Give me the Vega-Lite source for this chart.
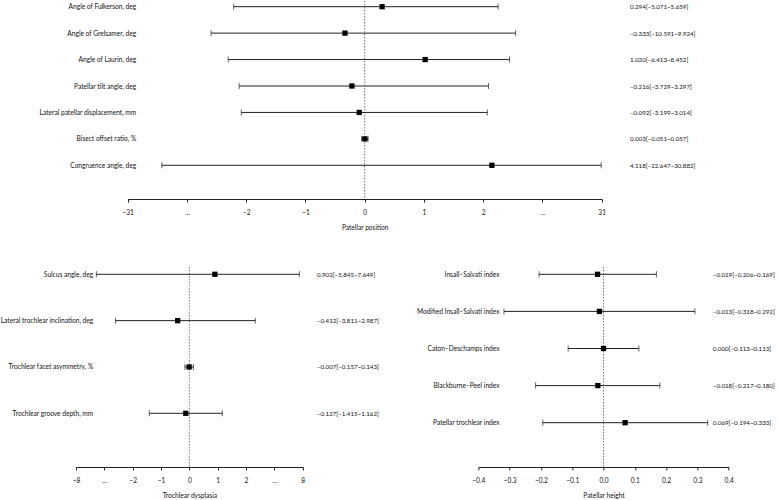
{
  "$schema": "https://vega.github.io/schema/vega-lite/v6.json",
  "padding": 0,
  "background": "white",
  "bounds": "flush",
  "spacing": 68,
  "datasets": {
    "position": [
      {"label": "Angle of Fulkerson, deg", "est": 0.294, "lo": -5.071, "hi": 5.659, "ci": "\u20070.294[−5.071~5.659]"},
      {"label": "Angle of Grelsamer, deg", "est": -0.333, "lo": -10.591, "hi": 9.924, "ci": "−0.333[−10.591~9.924]"},
      {"label": "Angle of Laurin, deg", "est": 1.020, "lo": -6.413, "hi": 8.452, "ci": "\u20071.020[−6.413~8.452]"},
      {"label": "Patellar tilt angle, deg", "est": -0.216, "lo": -3.729, "hi": 3.297, "ci": "−0.216[−3.729~3.297]"},
      {"label": "Lateral patellar displacement, mm", "est": -0.092, "lo": -3.199, "hi": 3.014, "ci": "−0.092[−3.199~3.014]"},
      {"label": "Bisect offset ratio, %", "est": 0.003, "lo": -0.051, "hi": 0.057, "ci": "\u20070.003[−0.051~0.057]"},
      {"label": "Congruence angle, deg", "est": 4.118, "lo": -22.647, "hi": 30.882, "ci": "\u20074.118[−22.647~30.882]"}
    ],
    "dysplasia": [
      {"label": "Sulcus angle, deg", "est": 0.902, "lo": -5.845, "hi": 7.649, "ci": "\u20070.902[−5.845~7.649]"},
      {"label": "Lateral trochlear inclination, deg", "est": -0.412, "lo": -3.811, "hi": 2.987, "ci": "−0.412[−3.811~2.987]"},
      {"label": "Trochlear facet asymmetry, %", "est": -0.007, "lo": -0.157, "hi": 0.143, "ci": "−0.007[−0.157~0.143]"},
      {"label": "Trochlear groove depth, mm", "est": -0.127, "lo": -1.415, "hi": 1.162, "ci": "−0.127[−1.415~1.162]"}
    ],
    "height": [
      {"label": "Insall–Salvati index", "est": -0.019, "lo": -0.206, "hi": 0.169, "ci": "−0.019[−0.206~0.169]"},
      {"label": "Modified Insall–Salvati index", "est": -0.013, "lo": -0.318, "hi": 0.292, "ci": "−0.013[−0.318~0.292]"},
      {"label": "Caton–Deschamps index", "est": 0.000, "lo": -0.113, "hi": 0.113, "ci": "\u20070.000[−0.113~0.113]"},
      {"label": "Blackburne–Peel index", "est": -0.018, "lo": -0.217, "hi": 0.180, "ci": "−0.018[−0.217~0.180]"},
      {"label": "Patellar trochlear index", "est": 0.069, "lo": -0.194, "hi": 0.333, "ci": "\u20070.069[−0.194~0.333]"}
    ]
  },
  "vconcat": [
    {
      "width": 525.7,
      "height": 198,
      "data": {"name": "position"},
      "layer": [
        {
          "layer": [
            {
              "data": {"values": [{"ref": 0}]},
              "mark": {"type": "rule", "color": "#777", "strokeDash": [1.5, 1.5], "strokeWidth": 1},
              "encoding": {
                "x": {"field": "ref", "type": "quantitative", "title": "Patellar position",
                  "scale": {"domain": [-31, -2, 2, 31], "range": [51.7, 170.2, 407.2, 525.7], "nice": false, "zero": false},
                  "axis": {"values": [-31, -16.5, -2, -1, 0, 1, 2, 16.5, 31], "labelOverlap": false, "labelExpr": "abs(datum.value) == 16.5 ? '...' : datum.label"}}
              }
            },
            {
              "mark": {"type": "rule", "color": "#222", "strokeWidth": 1},
              "encoding": {
                "x": {"field": "lo", "type": "quantitative", "title": "Patellar position"},
                "x2": {"field": "hi"},
                "y": {"field": "label", "type": "nominal", "sort": null, "scale": {"type": "point", "range": [5.7, 164.3], "padding": 0},
                  "axis": {"orient": "left", "title": null, "domain": false, "ticks": false, "labelPadding": 0, "offset": -59.7, "labelLimit": 300}}
              }
            },
            {
              "mark": {"type": "tick", "color": "#222", "thickness": 1, "size": 6},
              "encoding": {
                "x": {"field": "lo", "type": "quantitative", "title": "Patellar position"},
                "y": {"field": "label", "type": "nominal", "sort": null}
              }
            },
            {
              "mark": {"type": "tick", "color": "#222", "thickness": 1, "size": 6},
              "encoding": {
                "x": {"field": "hi", "type": "quantitative", "title": "Patellar position"},
                "y": {"field": "label", "type": "nominal", "sort": null}
              }
            }
          ]
        },
        {
          "mark": {"type": "square", "color": "#000", "opacity": 1, "size": 28},
          "encoding": {
            "x": {"field": "est", "type": "quantitative", "title": "Patellar position"},
            "y": {"field": "ci", "type": "nominal", "sort": null, "scale": {"type": "point", "range": [5.7, 164.3], "padding": 0},
              "axis": {"orient": "right", "title": null, "domain": false, "ticks": false, "labelPadding": 27.7, "labelAlign": "left", "labelLimit": 300, "labelFontSize": 6.2}}
          }
        }
      ],
      "resolve": {"scale": {"y": "independent"}, "axis": {"y": "independent"}}
    },
    {
      "bounds": "flush",
      "spacing": 175.3,
      "hconcat": [
        {
          "width": 226.7,
          "height": 200,
          "data": {"name": "dysplasia"},
          "layer": [
            {
              "layer": [
                {
                  "data": {"values": [{"ref": 0}]},
                  "mark": {"type": "rule", "color": "#777", "strokeDash": [1.5, 1.5], "strokeWidth": 1},
                  "encoding": {
                    "x": {"field": "ref", "type": "quantitative", "title": "Trochlear dysplasia",
                      "scale": {"domain": [-8, -2, 2, 8], "range": [0, 56.7, 170, 226.7], "nice": false, "zero": false},
                      "axis": {"values": [-8, -5, -2, -1, 0, 1, 2, 5, 8], "tickCount": 9, "labelOverlap": false, "labelSeparation": 0, "labelExpr": "abs(datum.value) == 5 ? '...' : datum.label"}}
                  }
                },
                {
                  "mark": {"type": "rule", "color": "#222", "strokeWidth": 1},
                  "encoding": {
                    "x": {"field": "lo", "type": "quantitative", "title": "Trochlear dysplasia",
                      "axis": {"values": [-8, -5, -2, -1, 0, 1, 2, 5, 8], "tickCount": 9, "labelOverlap": false, "labelSeparation": 0, "labelExpr": "abs(datum.value) == 5 ? '...' : datum.label"}},
                    "x2": {"field": "hi"},
                    "y": {"field": "label", "type": "nominal", "sort": null, "scale": {"type": "point", "range": [7.3, 146.3], "padding": 0},
                      "axis": {"orient": "left", "title": null, "domain": false, "ticks": false, "labelPadding": 0, "offset": -16.7, "labelLimit": 300}}
                  }
                },
                {
                  "mark": {"type": "tick", "color": "#222", "thickness": 1, "size": 6},
                  "encoding": {
                    "x": {"field": "lo", "type": "quantitative", "title": "Trochlear dysplasia"},
                    "y": {"field": "label", "type": "nominal", "sort": null}
                  }
                },
                {
                  "mark": {"type": "tick", "color": "#222", "thickness": 1, "size": 6},
                  "encoding": {
                    "x": {"field": "hi", "type": "quantitative", "title": "Trochlear dysplasia"},
                    "y": {"field": "label", "type": "nominal", "sort": null}
                  }
                }
              ]
            },
            {
              "mark": {"type": "square", "color": "#000", "opacity": 1, "size": 28},
              "encoding": {
                "x": {"field": "est", "type": "quantitative", "title": "Trochlear dysplasia"},
                "y": {"field": "ci", "type": "nominal", "sort": null, "scale": {"type": "point", "range": [7.3, 146.3], "padding": 0},
                  "axis": {"orient": "right", "title": null, "domain": false, "ticks": false, "labelPadding": 13.7, "labelAlign": "left", "labelLimit": 300, "labelFontSize": 6.2}}
              }
            }
          ],
          "resolve": {"scale": {"y": "independent"}, "axis": {"y": "independent"}}
        },
        {
          "width": 250.4,
          "height": 200,
          "data": {"name": "height"},
          "layer": [
            {
              "layer": [
                {
                  "data": {"values": [{"ref": 0}]},
                  "mark": {"type": "rule", "color": "#777", "strokeDash": [1.5, 1.5], "strokeWidth": 1},
                  "encoding": {
                    "x": {"field": "ref", "type": "quantitative", "title": "Patellar height",
                      "scale": {"domain": [-0.4, 0.4], "nice": false, "zero": false},
                      "axis": {"values": [-0.4, -0.3, -0.2, -0.1, 0, 0.1, 0.2, 0.3, 0.4], "tickCount": 9, "labelOverlap": false, "labelSeparation": 0}}
                  }
                },
                {
                  "mark": {"type": "rule", "color": "#222", "strokeWidth": 1},
                  "encoding": {
                    "x": {"field": "lo", "type": "quantitative", "title": "Patellar height",
                      "axis": {"values": [-0.4, -0.3, -0.2, -0.1, 0, 0.1, 0.2, 0.3, 0.4], "tickCount": 9, "labelOverlap": false, "labelSeparation": 0}},
                    "x2": {"field": "hi"},
                    "y": {"field": "label", "type": "nominal", "sort": null, "scale": {"type": "point", "range": [7.3, 155.7], "padding": 0},
                      "axis": {"orient": "left", "title": null, "domain": false, "ticks": false, "labelPadding": 0, "offset": -20.7, "labelLimit": 300}}
                  }
                },
                {
                  "mark": {"type": "tick", "color": "#222", "thickness": 1, "size": 6},
                  "encoding": {
                    "x": {"field": "lo", "type": "quantitative", "title": "Patellar height"},
                    "y": {"field": "label", "type": "nominal", "sort": null}
                  }
                },
                {
                  "mark": {"type": "tick", "color": "#222", "thickness": 1, "size": 6},
                  "encoding": {
                    "x": {"field": "hi", "type": "quantitative", "title": "Patellar height"},
                    "y": {"field": "label", "type": "nominal", "sort": null}
                  }
                }
              ]
            },
            {
              "mark": {"type": "square", "color": "#000", "opacity": 1, "size": 28},
              "encoding": {
                "x": {"field": "est", "type": "quantitative", "title": "Patellar height"},
                "y": {"field": "ci", "type": "nominal", "sort": null, "scale": {"type": "point", "range": [7.3, 155.7], "padding": 0},
                  "axis": {"orient": "right", "title": null, "domain": false, "ticks": false, "labelPadding": 0, "offset": -16.4, "labelAlign": "left", "labelLimit": 300, "labelFontSize": 6.2}}
              }
            }
          ],
          "resolve": {"scale": {"y": "independent"}, "axis": {"y": "independent"}}
        }
      ]
    }
  ],
  "config": {
    "view": {"stroke": null},
    "font": "Lato, sans-serif",
    "axis": {
      "grid": false,
      "labelFont": "Lato, sans-serif",
      "titleFont": "Lato, sans-serif",
      "labelFontSize": 6.6,
      "titleFontSize": 6.6,
      "titleFontWeight": "normal",
      "labelColor": "#111",
      "titleColor": "#111"
    },
    "axisX": {
      "domainColor": "#222",
      "domainWidth": 1,
      "tickColor": "#222",
      "tickWidth": 1,
      "tickSize": 3,
      "labelPadding": 7,
      "titlePadding": 9,
      "labelFlush": false,
      "labelOverlap": false
    }
  }
}
